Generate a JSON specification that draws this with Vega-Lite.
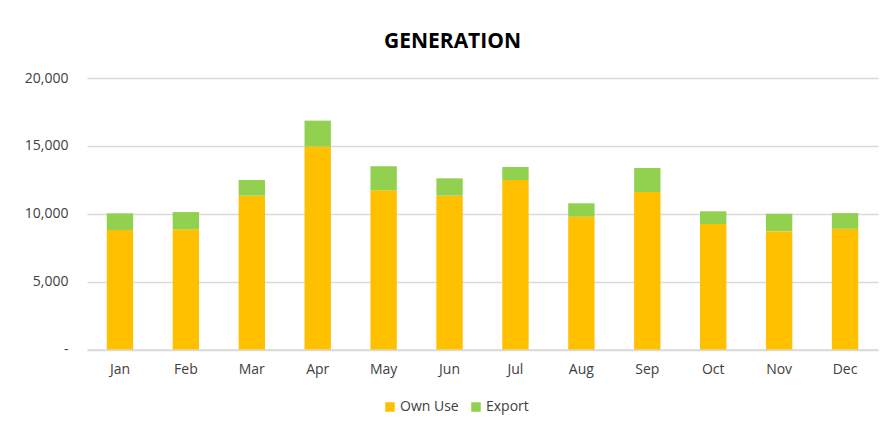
{
  "$schema": "https://vega.github.io/schema/vega-lite/v6.json",
  "autosize": "none",
  "width": 791,
  "height": 271.5,
  "padding": {"left": 87, "top": 78, "right": 12, "bottom": 76.5},
  "background": "white",
  "title": {
    "text": "GENERATION",
    "font": "Open Sans",
    "fontSize": 21,
    "fontWeight": "bold",
    "color": "#000000",
    "anchor": "middle",
    "frame": "group",
    "dx": -30,
    "offset": 19
  },
  "data": {
    "values": [
      {"month": "Jan", "series": "Own Use", "value": 8800},
      {"month": "Jan", "series": "Export", "value": 1230},
      {"month": "Feb", "series": "Own Use", "value": 8850},
      {"month": "Feb", "series": "Export", "value": 1275},
      {"month": "Mar", "series": "Own Use", "value": 11330},
      {"month": "Mar", "series": "Export", "value": 1155},
      {"month": "Apr", "series": "Own Use", "value": 14950},
      {"month": "Apr", "series": "Export", "value": 1910},
      {"month": "May", "series": "Own Use", "value": 11730},
      {"month": "May", "series": "Export", "value": 1770},
      {"month": "Jun", "series": "Own Use", "value": 11330},
      {"month": "Jun", "series": "Export", "value": 1280},
      {"month": "Jul", "series": "Own Use", "value": 12485},
      {"month": "Jul", "series": "Export", "value": 960},
      {"month": "Aug", "series": "Own Use", "value": 9780},
      {"month": "Aug", "series": "Export", "value": 990},
      {"month": "Sep", "series": "Own Use", "value": 11600},
      {"month": "Sep", "series": "Export", "value": 1770},
      {"month": "Oct", "series": "Own Use", "value": 9240},
      {"month": "Oct", "series": "Export", "value": 940},
      {"month": "Nov", "series": "Own Use", "value": 8720},
      {"month": "Nov", "series": "Export", "value": 1280},
      {"month": "Dec", "series": "Own Use", "value": 8890},
      {"month": "Dec", "series": "Export", "value": 1160}
    ]
  },
  "mark": {"type": "bar"},
  "encoding": {
    "x": {
      "field": "month",
      "type": "nominal",
      "sort": ["Jan","Feb","Mar","Apr","May","Jun","Jul","Aug","Sep","Oct","Nov","Dec"],
      "scale": {"paddingInner": 0.6, "paddingOuter": 0.3},
      "axis": {
        "title": null,
        "labelAngle": 0,
        "labelFont": "Open Sans",
        "labelFontSize": 14,
        "labelColor": "#404040",
        "labelPadding": 13,
        "ticks": false,
        "domainColor": "#d9d9d9",
        "domainWidth": 1.5,
        "grid": false
      }
    },
    "y": {
      "field": "value",
      "type": "quantitative",
      "aggregate": "sum",
      "stack": "zero",
      "scale": {"domain": [0, 20000], "nice": false},
      "axis": {
        "title": null,
        "values": [0, 5000, 10000, 15000, 20000],
        "labelExpr": "datum.value == 0 ? '-\u00a0\u00a0\u00a0\u00a0' : format(datum.value, ',')",
        "labelFont": "Open Sans",
        "labelFontSize": 14,
        "labelColor": "#404040",
        "labelPadding": 19,
        "ticks": false,
        "domain": false,
        "gridColor": "#d9d9d9",
        "gridWidth": 1.5
      }
    },
    "color": {
      "field": "series",
      "type": "nominal",
      "scale": {"domain": ["Own Use", "Export"], "range": ["#FFC000", "#92D050"]},
      "legend": {
        "title": null,
        "orient": "none",
        "direction": "horizontal",
        "legendX": 296,
        "legendY": 322,
        "symbolType": "square",
        "symbolSize": 90,
        "symbolStrokeWidth": 0,
        "labelFont": "Open Sans",
        "labelFontSize": 14,
        "labelColor": "#404040",
        "labelOffset": 3,
        "columnPadding": 10
      }
    },
    "order": {"field": "series", "sort": "descending"}
  },
  "config": {"view": {"stroke": null}}
}
